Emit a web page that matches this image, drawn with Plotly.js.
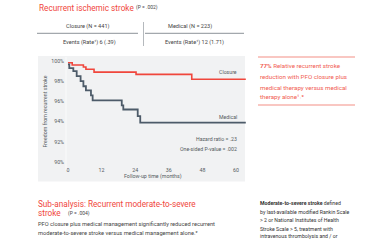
<!DOCTYPE html>
<html><head><meta charset="utf-8">
<script src="https://cdn.plot.ly/plotly-3.0.1.min.js"></script>
<style>html,body{margin:0;padding:0;background:#fff;}#chart{width:392px;height:240px;}</style>
</head><body><div id="chart"></div>
<script>
// Kaplan-Meier step data (months, % freedom from recurrent stroke)
const closureMonths = [0, 1.5, 5.5, 6.4, 9.3, 24.3, 44.2, 63.5];
const closureFree   = [99.83, 99.6, 99.4, 99.18, 98.9, 98.68, 98.2, 98.2];
const medicalMonths = [0, 0.46, 1.9, 3.1, 4.5, 5.5, 6.4, 8.2, 8.8, 19.2, 19.75, 24.9, 25.8, 63.5];
const medicalFree   = [99.67, 99.3, 99.0, 98.5, 98.0, 97.5, 97.1, 96.6, 96.1, 95.6, 95.2, 94.55, 93.9, 93.9];
const xTicks = [0, 12, 24, 36, 48, 60];
const yTicks = [90, 92, 94, 96, 98, 100];
const seriesNames = ['Closure', 'Medical'];

const RED = '#f0463c', GREY = '#4d5b69', TXT = '#555b60', FONT = 'Roboto, sans-serif';
const W = 392, H = 240;
const px = x => x / W, py = y => 1 - y / H;

const traces = [
  {x: closureMonths, y: closureFree, mode: 'lines', line: {shape: 'hv', color: RED, width: 1.6}, name: seriesNames[0], hoverinfo: 'skip'},
  {x: medicalMonths, y: medicalFree, mode: 'lines', line: {shape: 'hv', color: GREY, width: 1.8}, name: seriesNames[1], hoverinfo: 'skip'}
];

function ann(text, x, y, size, color, xanchor, extra) {
  return Object.assign({text: text, x: px(x), y: py(y), xref: 'paper', yref: 'paper', xanchor: xanchor || 'left', yanchor: 'middle',
    showarrow: false, font: {family: FONT, size: size, color: color}}, extra || {});
}

const annotations = [
  ann('Recurrent ischemic stroke', 37, 7.5, 8.2, RED),
  ann('(P = .002)', 134, 8, 5, '#444'),
  ann('Closure (N = 441)', 88, 26.5, 5.6, '#444', 'center'),
  ann('Medical (N = 223)', 190, 26.5, 5.6, '#444', 'center'),
  ann('Events (Rate¹) 6 (.39)', 89, 42.3, 5.6, '#444', 'center'),
  ann('Events (Rate¹) 12 (1.71)', 194, 42.3, 5.6, '#444', 'center'),
  ann(seriesNames[0], 238.5, 72.5, 5.2, TXT, 'right'),
  ann(seriesNames[1], 238.5, 117.5, 5.2, TXT, 'right'),
  ann('Hazard ratio = .23', 238.5, 139, 5.2, TXT, 'right'),
  ann('One-sided P-value = .002', 238.5, 148.7, 5.2, TXT, 'right'),
  ann('Freedom from recurrent stroke', 44, 111.5, 5.3, TXT, 'center', {textangle: -90}),
  ann('Follow-up time (months)', 152.5, 176, 5.3, TXT, 'center'),
  ann('<b>77%</b> Relative recurrent stroke', 258, 66, 6.2, '#f15c52'),
  ann('reduction with PFO closure plus', 258, 77.3, 6.2, '#f15c52'),
  ann('medical therapy versus medical', 258, 87.7, 6.2, '#f15c52'),
  ann('therapy alone¹˒²', 258, 97.3, 6.2, '#f15c52'),
  ann('Sub-analysis: Recurrent moderate-to-severe', 36, 204.3, 8.2, RED),
  ann('stroke', 36, 213.3, 8.2, RED),
  ann('(P = .004)', 65.5, 213.5, 5, '#444'),
  ann('PFO closure plus medical management significantly reduced recurrent', 36, 224.3, 5.7, '#444'),
  ann('moderate-to-severe stroke versus medical management alone.²', 36, 232.5, 5.7, '#444'),
  ann('<b>Moderate-to-severe stroke</b> defined', 258, 203.3, 5.2, '#333'),
  ann('by last-available modified Rankin Scale', 258, 212, 5.2, '#333'),
  ann('> 2 or National Institutes of Health', 258, 220.4, 5.2, '#333'),
  ann('Stroke Scale > 5, treatment with', 258, 228.6, 5.2, '#333'),
  ann('intravenous thrombolysis and / or', 258, 236.4, 5.2, '#333')
];

function rect(x0, y0, x1, y1, fill) {
  return {type: 'rect', xref: 'paper', yref: 'paper', x0: px(x0), x1: px(x1), y0: py(y1), y1: py(y0), fillcolor: fill, line: {width: 0}, layer: 'below'};
}
function hline(x0, x1, y, color, w) {
  return {type: 'line', xref: 'paper', yref: 'paper', x0: px(x0), x1: px(x1), y0: py(y), y1: py(y), line: {color: color, width: w}};
}
function vline(x, y0, y1, color, w) {
  return {type: 'line', xref: 'paper', yref: 'paper', x0: px(x), x1: px(x), y0: py(y0), y1: py(y1), line: {color: color, width: w}};
}

const shapes = [
  rect(38, 56, 245, 181.5, '#f1f2f3'),
  vline(66, 57, 170, '#fafbfb', 1),
  hline(37, 138, 33.3, '#a3a8ad', 1.2),
  hline(145, 244, 33.3, '#a3a8ad', 1.2),
  vline(143.5, 22, 46, '#b5b9bd', 1),
  hline(258, 355, 57, '#f7b4ae', 1.5),
  hline(258, 355, 105, '#f7b4ae', 1.5)
];

const layout = {
  width: W, height: H, margin: {l: 0, r: 0, t: 0, b: 0},
  paper_bgcolor: '#fff', plot_bgcolor: 'rgba(0,0,0,0)', showlegend: false,
  xaxis: {domain: [px(66), px(246)], range: [-2 / 2.8, 60 + 10 / 2.8], tickvals: xTicks, ticktext: xTicks.map(String),
    showgrid: false, zeroline: false, showline: false, ticks: '', tickfont: {family: FONT, size: 5.3, color: TXT}, ticklabelstandoff: 1},
  yaxis: {domain: [py(165), py(57)], range: [90 - 3 / 10.1, 100 + 4 / 10.1], tickvals: yTicks, ticktext: yTicks.map(v => v + '%'),
    showgrid: false, zeroline: false, showline: false, ticks: '', tickfont: {family: FONT, size: 5.3, color: TXT}, ticklabelstandoff: 1},
  annotations: annotations, shapes: shapes,
  font: {family: FONT}
};

Plotly.newPlot('chart', traces, layout, {staticPlot: true, displayModeBar: false});
</script></body></html>
